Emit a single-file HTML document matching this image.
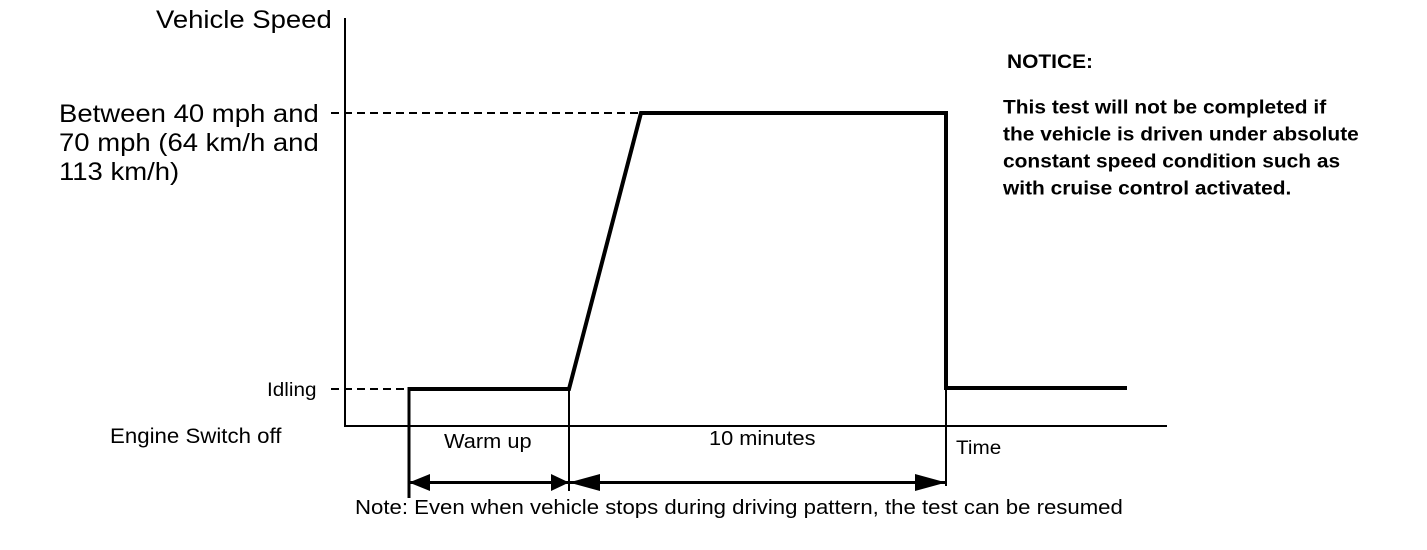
<!DOCTYPE html>
<html>
<head>
<meta charset="utf-8">
<style>
  html, body { margin: 0; padding: 0; background: #fff; }
  svg { display: block; }
  text { font-family: "Liberation Sans", Arial, sans-serif; fill: #000; }
  .b { font-weight: bold; }
</style>
</head>
<body>
<svg width="1427" height="550" viewBox="0 0 1427 550" xmlns="http://www.w3.org/2000/svg">
  <rect x="0" y="0" width="1427" height="550" fill="#fff"/>

  <!-- axes -->
  <line x1="345" y1="18" x2="345" y2="427" stroke="#000" stroke-width="2"/>
  <line x1="344" y1="426" x2="1167" y2="426" stroke="#000" stroke-width="2"/>

  <!-- dashed reference lines -->
  <line x1="331" y1="113" x2="641" y2="113" stroke="#000" stroke-width="2" stroke-dasharray="8,5"/>
  <line x1="331" y1="389" x2="409" y2="389" stroke="#000" stroke-width="2" stroke-dasharray="8,5"/>

  <!-- speed profile -->
  <polyline points="409,389 569,389 641,113 946,113 946,388 1127,388" fill="none" stroke="#000" stroke-width="4" stroke-linejoin="miter"/>

  <!-- extension lines -->
  <line x1="409" y1="387" x2="409" y2="498" stroke="#000" stroke-width="3"/>
  <line x1="569" y1="389" x2="569" y2="491" stroke="#000" stroke-width="2"/>
  <line x1="946" y1="388" x2="946" y2="486" stroke="#000" stroke-width="2"/>

  <!-- dimension arrows -->
  <line x1="409" y1="482.5" x2="946" y2="482.5" stroke="#000" stroke-width="3"/>
  <polygon points="409,482.5 430,474 430,491" fill="#000"/>
  <polygon points="569,482.5 551,474 551,491" fill="#000"/>
  <polygon points="569,482.5 600,474 600,491" fill="#000"/>
  <polygon points="946,482.5 915,474 915,491" fill="#000"/>

  <!-- left labels -->
  <text transform="translate(156,28) scale(1.1,1)" font-size="25">Vehicle Speed</text>
  <text transform="translate(59,122) scale(1.1,1)" font-size="25">Between 40 mph and</text>
  <text transform="translate(59,151) scale(1.1,1)" font-size="25">70 mph (64 km/h and</text>
  <text transform="translate(59,180) scale(1.1,1)" font-size="25">113 km/h)</text>
  <text transform="translate(267,396) scale(1.09,1)" font-size="19">Idling</text>
  <text transform="translate(110,443) scale(1.06,1)" font-size="21">Engine Switch off</text>

  <!-- axis labels -->
  <text transform="translate(444,448) scale(1.09,1)" font-size="20">Warm up</text>
  <text transform="translate(709,445) scale(1.09,1)" font-size="20">10 minutes</text>
  <text transform="translate(956,454) scale(1.09,1)" font-size="19">Time</text>
  <text transform="translate(355,514) scale(1.093,1)" font-size="20.3">Note: Even when vehicle stops during driving pattern, the test can be resumed</text>

  <!-- notice -->
  <text class="b" transform="translate(1007,68) scale(1.09,1)" font-size="19.2">NOTICE:</text>
  <text class="b" transform="translate(1003,113.5) scale(1.09,1)" font-size="19.2">This test will not be completed if</text>
  <text class="b" transform="translate(1003,140.5) scale(1.09,1)" font-size="19.2">the vehicle is driven under absolute</text>
  <text class="b" transform="translate(1003,167.5) scale(1.09,1)" font-size="19.2">constant speed condition such as</text>
  <text class="b" transform="translate(1003,194.5) scale(1.09,1)" font-size="19.2">with cruise control activated.</text>
</svg>
</body>
</html>
